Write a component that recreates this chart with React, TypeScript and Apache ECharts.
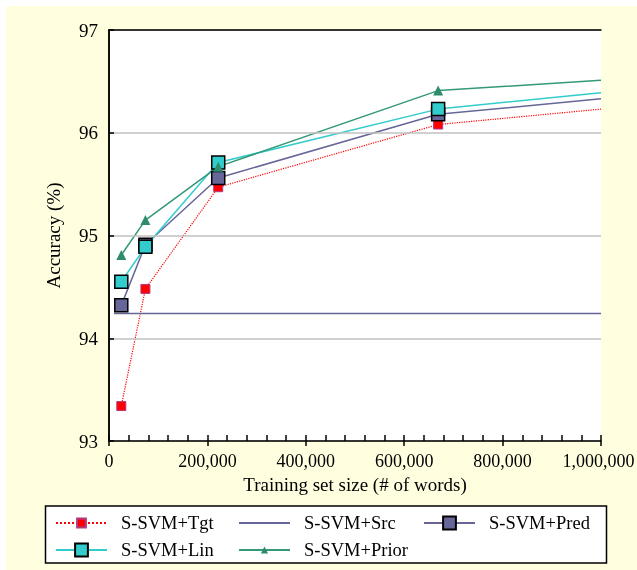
import React, { useEffect, useRef } from "react";
import * as echarts from "echarts";

const sizes = [25000, 74000, 222000, 669000, 1000000];
const tgt = [93.34, 94.48, 95.47, 96.08, 96.23];
const pred = [94.32, 94.91, 95.56, 96.18, 96.33];
const lin = [94.55, 94.89, 95.71, 96.23, 96.39];
const prior = [94.81, 95.15, 95.67, 96.41, 96.51];
const srcX = [10000, 1000000];
const srcY = [94.24, 94.24];
const seriesNames = ["S-SVM+Tgt", "S-SVM+Src", "S-SVM+Pred", "S-SVM+Lin", "S-SVM+Prior"];
const yRange = { min: 93, max: 97, interval: 1 };
const xRange = { min: 0, max: 1000000, interval: 200000, minor: 40000 };

const FONT = "'Liberation Serif', 'Times New Roman', Times, serif";

function pts(xs: number[], ys: number[]) {
  return xs.map((x, i) =>
    i === xs.length - 1 ? { value: [x, ys[i]], symbol: "none" } : [x, ys[i]]
  );
}

export default function App() {
  const ref = useRef<HTMLDivElement>(null);
  useEffect(() => {
    if (!ref.current) return;
    const chart = echarts.init(ref.current, null, { renderer: "svg" });
    const legendItem = (name: string, left: number, cy: number, h: number, hideSymbol = false) => ({
      data: [name],
      left,
      top: cy - 10,
      itemWidth: 51,
      itemHeight: h,
      padding: 0,
      selectedMode: false,
      z: 5,
      ...(hideSymbol ? { itemStyle: { opacity: 0 } } : {}),
      textStyle: {
        fontFamily: FONT,
        fontSize: 18.5,
        lineHeight: 20,
        color: "#000",
        padding: [0, 0, 0, 9],
      },
    });
    const axisBlack = { show: true, lineStyle: { color: "#000", width: 1.5 } };
    chart.setOption({
      animation: false,
      textStyle: { fontFamily: FONT },
      graphic: [
        {
          type: "rect",
          shape: { x: 6, y: 6, width: 631, height: 564 },
          style: { fill: "#FFFFE0" },
          z: -10,
          silent: true,
        },
        {
          type: "rect",
          shape: { x: 45.5, y: 506, width: 561, height: 57 },
          style: { fill: "#fff", stroke: "#000", lineWidth: 1.5 },
          z: 1,
          silent: true,
        },
      ],
      grid: {
        left: 109,
        right: 36,
        top: 30,
        bottom: 129,
        show: true,
        backgroundColor: "#fff",
        borderWidth: 0,
        containLabel: false,
        outerBoundsMode: "none",
      },
      legend: [
        legendItem(seriesNames[0], 55, 523, 11),
        legendItem(seriesNames[1], 238, 523, 11, true),
        legendItem(seriesNames[2], 423, 523, 16),
        legendItem(seriesNames[3], 55, 550, 16),
        legendItem(seriesNames[4], 238, 550, 9),
      ],
      xAxis: [
        {
          type: "value",
          position: "bottom",
          min: xRange.min,
          max: xRange.max,
          interval: xRange.interval,
          z: 3,
          axisLine: axisBlack,
          axisTick: { show: true, inside: false, length: 5, lineStyle: { color: "#000", width: 1.5 } },
          axisLabel: {
            fontFamily: FONT,
            fontSize: 18,
            color: "#000",
            margin: 11,
            formatter: (v: number) =>
              v === xRange.max ? "{r|" + v.toLocaleString("en-US") + "}" : v.toLocaleString("en-US"),
            rich: { r: { fontFamily: FONT, fontSize: 18, color: "#000", padding: [0, 5, 0, 0] } },
          },
          splitLine: { show: false },
          name: "Training set size (# of words)",
          nameLocation: "middle",
          nameGap: 34,
          nameTextStyle: { fontFamily: FONT, fontSize: 19, color: "#000" },
        },
        {
          type: "value",
          position: "bottom",
          min: xRange.min,
          max: xRange.max,
          interval: xRange.minor,
          z: 3,
          axisLine: { show: false },
          axisTick: { show: true, inside: true, length: 6, lineStyle: { color: "#000", width: 1.5 } },
          axisLabel: { show: false },
          splitLine: { show: false },
        },
        {
          type: "value",
          position: "top",
          min: xRange.min,
          max: xRange.max,
          z: 3,
          axisLine: axisBlack,
          axisTick: { show: false },
          axisLabel: { show: false },
          splitLine: { show: false },
        },
      ],
      yAxis: [
        {
          type: "value",
          position: "left",
          min: yRange.min,
          max: yRange.max,
          interval: yRange.interval,
          z: 3,
          axisLine: axisBlack,
          axisTick: { show: true, inside: true, length: 5, lineStyle: { color: "#000", width: 1.5 } },
          axisLabel: { fontFamily: FONT, fontSize: 19, color: "#000", margin: 11 },
          splitLine: { show: true, lineStyle: { color: "#C0C0C0", width: 1.5 } },
          name: "Accuracy (%)",
          nameLocation: "middle",
          nameGap: 46,
          nameTextStyle: { fontFamily: FONT, fontSize: 19, color: "#000" },
        },
        {
          type: "value",
          position: "right",
          min: yRange.min,
          max: yRange.max,
          z: 3,
          axisLine: axisBlack,
          axisTick: { show: false },
          axisLabel: { show: false },
          splitLine: { show: false },
        },
      ],
      series: [
        {
          name: seriesNames[0],
          type: "line",
          data: pts(sizes, tgt),
          symbol: "rect",
          symbolSize: 9,
          lineStyle: { color: "#FF0000", width: 1.2, type: "dotted" },
          itemStyle: { color: "#FF0000", borderColor: "#B03A80", borderWidth: 1 },
          z: 2,
        },
        {
          name: seriesNames[1],
          type: "line",
          data: pts(srcX, srcY),
          symbol: "none",
          lineStyle: { color: "#666699", width: 1.5 },
          itemStyle: { color: "#666699" },
          z: 2,
        },
        {
          name: seriesNames[2],
          type: "line",
          data: pts(sizes, pred),
          symbol: "rect",
          symbolSize: 13,
          lineStyle: { color: "#666699", width: 1.5 },
          itemStyle: { color: "#666699", borderColor: "#000", borderWidth: 1.5 },
          z: 2,
        },
        {
          name: seriesNames[3],
          type: "line",
          data: pts(sizes, lin),
          symbol: "rect",
          symbolSize: 13,
          lineStyle: { color: "#33CCCC", width: 1.5 },
          itemStyle: { color: "#33CCCC", borderColor: "#000", borderWidth: 1.5 },
          z: 2,
        },
        {
          name: seriesNames[4],
          type: "line",
          data: pts(sizes, prior),
          symbol: "triangle",
          symbolSize: 10,
          lineStyle: { color: "#339977", width: 1.5 },
          itemStyle: { color: "#2E8B6E" },
          z: 2,
        },
      ],
    });
    return () => chart.dispose();
  }, []);
  return (
    <div
      ref={ref}
      style={{ position: "fixed", left: 0, top: 0, width: 637, height: 570 }}
    />
  );
}
